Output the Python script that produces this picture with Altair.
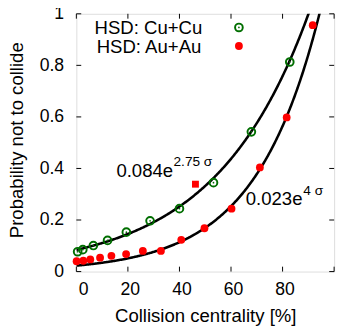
import altair as alt
import numpy as np
import pandas as pd

# ---- data ----
cu_cent = [0.5, 2.5, 6.6, 12.1, 19.4, 28.6, 40.0, 53.2, 67.9, 82.8]
cu_prob = [0.077, 0.085, 0.101, 0.121, 0.153, 0.197, 0.244, 0.345, 0.542, 0.813]
au_cent = [0.1, 2.7, 5.4, 9.2, 13.6, 19.3, 25.8, 32.8, 40.7, 49.7, 60.2, 71.2, 81.6, 91.7]
au_prob = [0.040, 0.042, 0.047, 0.054, 0.061, 0.068, 0.080, 0.080, 0.123, 0.168, 0.244, 0.404, 0.598, 0.956]
sq_cent = [46.2]
sq_prob = [0.339]

# fit parameters shown on the chart: a * exp(b * sigma)
cu_fit = (0.084, 2.75)
au_fit = (0.023, 4.0)

x_ticks = [0, 20, 40, 60, 80, 100]
x_labels = [0, 20, 40, 60, 80]
y_ticks = [0, 0.2, 0.4, 0.6, 0.8, 1.0]

legend_labels = ["HSD: Cu+Cu", "HSD: Au+Au"]

GREEN = "#006e00"
RED = "#ff0000"
FONT = "Liberation Sans"
W, H = 264, 264

sig = np.linspace(0, 1, 401)
fit_df = pd.concat([
    pd.DataFrame({"cent": sig * 100, "prob": cu_fit[0] * np.exp(cu_fit[1] * sig), "s": "Cu"}),
    pd.DataFrame({"cent": sig * 100, "prob": au_fit[0] * np.exp(au_fit[1] * sig), "s": "Au"}),
])
fit_df = fit_df[fit_df["prob"] <= 1.05]

cu_df = pd.DataFrame({"cent": cu_cent, "prob": cu_prob})
au_df = pd.DataFrame({"cent": au_cent, "prob": au_prob})
sq_df = pd.DataFrame({"cent": sq_cent, "prob": sq_prob})
xt_df = pd.DataFrame({"cent": x_ticks})
yt_df = pd.DataFrame({"prob": y_ticks})

xs = alt.Scale(domain=[0, 100], nice=False, zero=False)
ys = alt.Scale(domain=[0, 1], nice=False)
xaxis = alt.Axis(title="Collision centrality [%]", values=x_labels, format="d",
                 grid=False, ticks=False, domain=False, labelPadding=9,
                 labelFontSize=18, titleFontSize=19, labelOffset=2,
                 titleFontWeight="normal",
                 titleBaseline="alphabetic", titleY=51)
yaxis = alt.Axis(title="Probability not to collide", values=y_ticks,
                 labelExpr="datum.value == 0 ? '0' : datum.value == 1 ? '1' : format(datum.value, '.1f')",
                 grid=False, ticks=False, domain=False, labelPadding=13,
                 labelFontSize=18, titleFontSize=19, titleFontWeight="normal",
                 titleBaseline="alphabetic", titleX=-55, titleY=129)

X = lambda f: alt.X(f, type="quantitative", scale=xs, axis=xaxis)
Y = lambda f: alt.Y(f, type="quantitative", scale=ys, axis=yaxis)

fits = alt.Chart(fit_df).mark_line(color="black", strokeWidth=2.6, clip=True).encode(
    x=X("cent"), y=Y("prob"), detail="s:N")

cu_pts = alt.Chart(cu_df).mark_point(shape="circle", filled=False, color=GREEN,
                                     size=62, strokeWidth=2, opacity=1).encode(x=X("cent"), y=Y("prob"))
cu_dot = alt.Chart(cu_df).mark_point(shape="circle", filled=True, color=GREEN,
                                     size=3, opacity=1).encode(x=X("cent"), y=Y("prob"))
au_pts = alt.Chart(au_df).mark_point(shape="circle", filled=True, color=RED,
                                     size=64, opacity=1).encode(x=X("cent"), y=Y("prob"))
sq_pts = alt.Chart(sq_df).mark_point(shape="square", filled=True, color=RED,
                                     size=50, opacity=1).encode(x=X("cent"), y=Y("prob"))

tick_bottom = alt.Chart(xt_df).mark_rule(color="black", strokeWidth=1).encode(
    x=X("cent"), y=alt.value(H), y2=alt.value(H - 5))
tick_top = alt.Chart(xt_df).mark_rule(color="black", strokeWidth=1).encode(
    x=X("cent"), y=alt.value(0), y2=alt.value(5))
tick_left = alt.Chart(yt_df).mark_rule(color="black", strokeWidth=1).encode(
    y=Y("prob"), x=alt.value(0), x2=alt.value(5))
tick_right = alt.Chart(yt_df).mark_rule(color="black", strokeWidth=1).encode(
    y=Y("prob"), x=alt.value(W), x2=alt.value(W - 5))

def txt(s, x, y, size, align="left"):
    return alt.Chart(pd.DataFrame({"t": [s]})).mark_text(
        align=align, baseline="alphabetic", fontSize=size, font=FONT, color="black"
    ).encode(text="t:N", x=alt.value(x), y=alt.value(y))

ann = [
    txt("0.084e", 41, 167, 19),
    txt("2.75 σ", 99.5, 156, 14),
    txt("0.023e", 173.5, 196, 19),
    txt("4 σ", 232.5, 186, 14),
    txt(legend_labels[0], 129, 21, 19, "right"),
    txt(legend_labels[1], 128, 40, 19, "right"),
]

leg_cu = alt.Chart(pd.DataFrame({"t": [legend_labels[0]]})).mark_point(
    shape="circle", filled=False, color=GREEN, size=62, strokeWidth=2, opacity=1
).encode(x=alt.value(166.5), y=alt.value(14))
leg_cu_dot = alt.Chart(pd.DataFrame({"t": [legend_labels[0]]})).mark_point(
    shape="circle", filled=True, color=GREEN, size=3, opacity=1
).encode(x=alt.value(166.5), y=alt.value(14))
leg_au = alt.Chart(pd.DataFrame({"t": [legend_labels[1]]})).mark_point(
    shape="circle", filled=True, color=RED, size=64, opacity=1
).encode(x=alt.value(166.5), y=alt.value(33))

chart = alt.layer(
    fits, tick_bottom, tick_top, tick_left, tick_right,
    cu_pts, cu_dot, au_pts, sq_pts, *ann, leg_cu, leg_cu_dot, leg_au
).properties(
    width=W, height=H,
    autosize=alt.AutoSizeParams(type="none"),
    padding={"left": 70, "top": 2, "right": 5, "bottom": 60},
).configure_view(
    stroke="black", strokeWidth=1
).configure_axis(
    labelFont=FONT, titleFont=FONT, labelColor="black", titleColor="black",
    titleFontWeight="normal"
).configure(background="white")

chart.save("out.html", embed_options={"renderer": "svg", "actions": False})
